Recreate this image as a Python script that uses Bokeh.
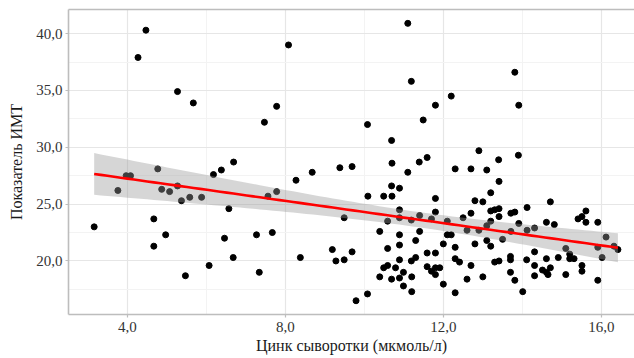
import numpy as np
from bokeh.plotting import figure
from bokeh.models import (ColumnDataSource, LinearAxis, FixedTicker, Range1d,
                          CustomJSTickFormatter)
from bokeh.embed import file_html
from bokeh.resources import INLINE

# ---- data (serum zinc, µmol/l ; BMI) ----
zinc = [4.47, 4.27, 5.27, 5.67, 11.10, 8.08, 11.19, 11.80, 7.78, 7.47, 10.08, 11.49, 10.69, 11.59,
        13.81, 12.20, 13.91, 12.90, 13.90, 13.40,
        3.16, 3.76, 3.97, 4.08, 4.77, 4.87, 5.07, 5.27, 5.37, 5.58, 5.88, 6.18, 6.38, 6.69, 6.57,
        4.67, 4.97, 4.67, 6.46, 7.27, 6.68, 6.07, 5.47, 7.34,
        10.70, 11.39, 11.10, 8.68, 9.38, 9.69, 8.27, 10.69, 10.89, 10.09, 10.49, 10.70, 11.80, 11.80,
        10.89, 7.56, 7.78, 9.49, 10.59, 10.89, 11.19, 11.40, 11.70, 7.67, 10.39, 11.40, 10.89, 11.30,
        10.89, 10.59, 9.19, 9.69, 8.38, 9.28, 9.49, 10.89, 11.19, 11.30, 11.59, 11.80, 10.49, 10.59,
        10.79, 10.99, 10.39, 10.69, 10.89, 11.20, 11.59, 11.70, 11.80, 11.80, 10.99, 11.20, 10.08, 9.79,
        11.91,
        12.30, 12.70, 13.10, 13.41, 13.20, 12.80, 13.00, 14.71, 12.70, 13.20, 13.30, 13.41, 13.71, 13.81,
        14.12, 15.61, 15.51, 15.41, 15.61, 15.91, 14.61, 14.81, 12.50, 12.10, 13.20, 13.41, 13.91, 13.10,
        12.60, 12.90, 13.71, 14.12, 14.31, 12.10, 12.20, 13.50, 13.10, 12.80, 12.00, 12.30, 13.20, 14.31,
        15.10, 15.20, 15.31, 15.20, 15.91, 16.12, 16.32, 16.42, 16.02, 12.30, 12.41, 13.30, 13.41, 13.70,
        13.70, 14.11, 14.61, 14.91, 12.70, 14.31, 14.51, 14.61, 14.71, 15.51, 15.51, 15.10, 13.70, 14.31,
        13.81, 13.00, 12.60, 12.00, 12.30, 14.01, 15.91, 14.65]
bmi = [40.3, 37.9, 34.9, 33.9, 40.9, 39.0, 35.8, 33.7, 33.6, 32.2, 32.0, 32.4, 30.6, 29.1,
       36.6, 34.5, 33.7, 29.7, 29.3, 28.9,
       23.0, 26.2, 27.5, 27.5, 28.1, 26.3, 26.1, 26.6, 25.3, 25.6, 25.6, 27.6, 28.0, 28.7, 24.6,
       23.7, 22.3, 21.3, 22.0, 22.3, 20.3, 19.6, 18.7, 19.0,
       28.6, 28.7, 27.8, 27.8, 28.2, 28.3, 27.1, 26.6, 26.4, 25.7, 25.7, 25.7, 25.5, 24.3,
       24.5, 25.7, 26.1, 23.8, 23.5, 23.8, 23.6, 24.0, 23.7, 22.5, 22.6, 22.6, 22.3, 21.8,
       21.4, 21.1, 21.0, 20.8, 20.3, 20.0, 20.1, 20.1, 20.0, 20.3, 20.7, 20.7, 19.4, 19.6,
       19.4, 19.0, 18.6, 18.4, 18.5, 18.6, 19.5, 19.1, 19.4, 18.8, 17.8, 17.3, 17.1, 16.5,
       19.4,
       28.1, 28.1, 28.0, 27.0, 26.0, 25.3, 25.2, 25.2, 24.2, 24.4, 24.5, 24.6, 24.2, 24.3,
       24.7, 24.4, 23.9, 23.7, 23.4, 23.4, 23.4, 23.2, 23.8, 23.5, 23.5, 23.9, 23.3, 23.1,
       22.7, 22.7, 22.6, 22.7, 22.9, 22.3, 22.3, 21.9, 21.8, 21.5, 21.5, 21.2, 21.3, 20.8,
       21.1, 20.6, 20.2, 20.2, 21.2, 22.1, 21.3, 21.0, 20.3, 20.2, 19.9, 19.9, 20.0, 20.4,
       20.1, 20.1, 20.2, 20.3, 19.6, 19.6, 19.2, 19.0, 19.4, 19.6, 19.1, 18.8, 19.0, 18.7,
       18.3, 18.6, 18.4, 17.96, 17.2, 17.3, 18.3, 18.8]

x_ticks = [4, 8, 12, 16]
x_minor = [2, 6, 10, 14]
y_ticks = [20, 25, 30, 35, 40]
y_minor = [17.5, 22.5, 27.5, 32.5, 37.5, 42.5]
x_title = "Цинк сыворотки (мкмоль/л)"
y_title = "Показатель ИМТ"

# ---- linear fit with 95% confidence band (like geom_smooth(method="lm")) ----
xa = np.array(zinc)
ya = np.array(bmi)
n = len(xa)
slope, intercept = np.polyfit(xa, ya, 1)
resid = ya - (slope * xa + intercept)
s = np.sqrt(np.sum(resid ** 2) / (n - 2))
sxx = np.sum((xa - xa.mean()) ** 2)
t_crit = 1.973
gx = np.linspace(xa.min(), xa.max(), 80)
gy = slope * gx + intercept
se = s * np.sqrt(1.0 / n + (gx - xa.mean()) ** 2 / sxx)
fit = ColumnDataSource(dict(x=gx, y=gy, lo=gy - t_crit * se, hi=gy + t_crit * se))
pts = ColumnDataSource(dict(x=zinc, y=bmi))

FONT = "Liberation Serif"
AX = "#bdbdbd"

p = figure(width=634, height=358, output_backend="svg", toolbar_location=None,
           x_range=Range1d(2.51, 16.84), y_range=Range1d(15.29, 42.12),
           min_border_left=68, min_border_right=0, min_border_top=9, min_border_bottom=44,
           background_fill_color="white", border_fill_color="white")
p.outline_line_color = None

p.scatter("x", "y", source=pts, size=6, color="black")
p.varea(x="x", y1="lo", y2="hi", source=fit, fill_color="#999999", fill_alpha=0.4)
p.line("x", "y", source=fit, line_color="#ff0000", line_width=2.6)

fmt = CustomJSTickFormatter(code="return tick.toFixed(1).replace('.', ',');")
p.xaxis.ticker = FixedTicker(ticks=x_ticks, minor_ticks=x_minor)
p.yaxis.ticker = FixedTicker(ticks=y_ticks, minor_ticks=y_minor)
for ax in (p.xaxis[0], p.yaxis[0]):
    ax.formatter = fmt
    ax.axis_line_color = AX
    ax.axis_line_width = 1.6
    ax.major_tick_line_color = AX
    ax.major_tick_line_width = 1.2
    ax.major_tick_out = 3
    ax.major_tick_in = 0
    ax.minor_tick_line_color = None
    ax.major_label_text_font = FONT
    ax.major_label_text_font_size = "15px"
    ax.major_label_text_color = "#333333"
    ax.axis_label_text_font = FONT
    ax.axis_label_text_font_size = "16px"
    ax.axis_label_text_font_style = "normal"
    ax.axis_label_text_color = "#1a1a1a"
p.xaxis.axis_label = x_title
p.yaxis.axis_label = y_title
p.xaxis.major_label_standoff = 3
p.xaxis.axis_label_standoff = 2
p.yaxis.major_label_standoff = 2
p.yaxis.axis_label_standoff = 8

top = LinearAxis(ticker=FixedTicker(ticks=[]), axis_line_color=AX, axis_line_width=1.6,
                 major_tick_line_color=None, minor_tick_line_color=None,
                 major_label_text_font_size="0px", major_label_standoff=0)
p.add_layout(top, "above")

for g in (p.xgrid[0], p.ygrid[0]):
    g.grid_line_color = "#e6e6e6"
    g.grid_line_width = 1.2
    g.minor_grid_line_color = "#f3f3f3"
    g.minor_grid_line_width = 1

open("out.html", "w").write(file_html(p, INLINE))
